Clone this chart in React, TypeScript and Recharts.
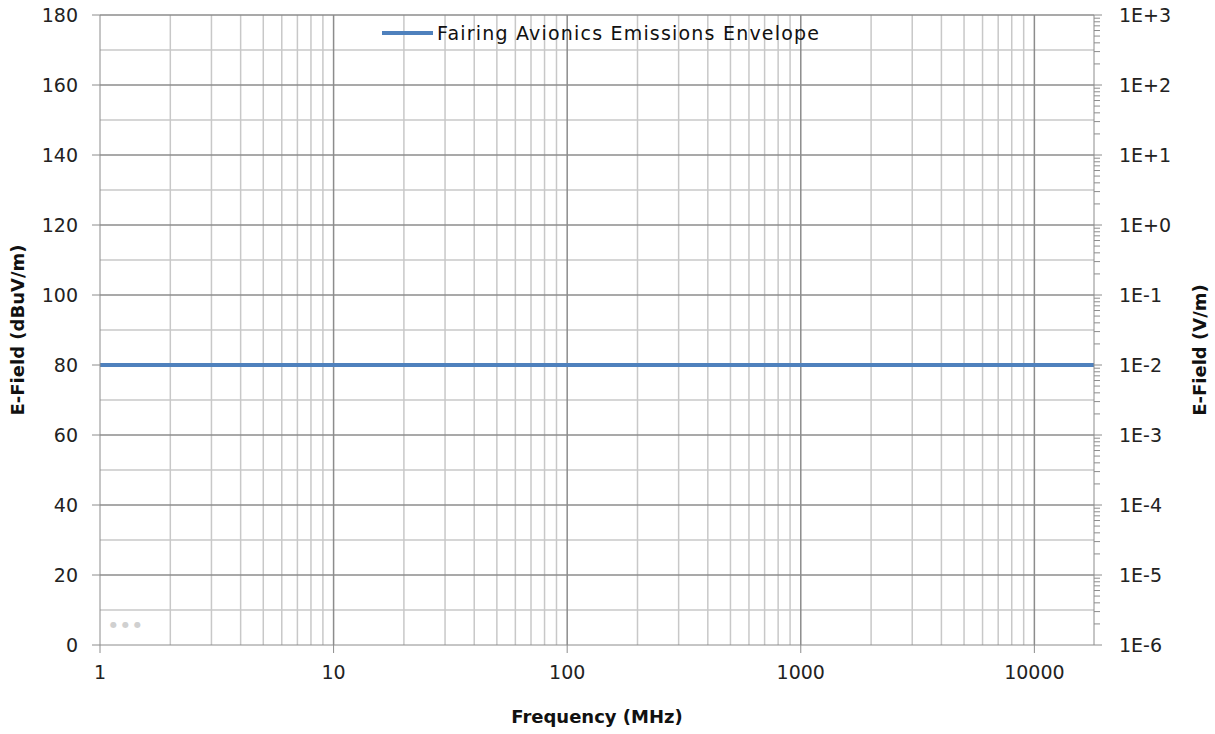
import { LineChart, Line, XAxis, YAxis, ReferenceLine } from "recharts";

// envelope data (frequency in MHz, E-field in dBuV/m and V/m)
const freqMHz = [1, 18000];
const envelopeDb = [80, 80];
const envelopeVm = [0.01, 0.01];

const xTicks = [1, 10, 100, 1000, 10000];
const xMinorGrid = [
  2, 3, 4, 5, 6, 7, 8, 9,
  20, 30, 40, 50, 60, 70, 80, 90,
  200, 300, 400, 500, 600, 700, 800, 900,
  2000, 3000, 4000, 5000, 6000, 7000, 8000, 9000,
];
const dbTicks = [0, 20, 40, 60, 80, 100, 120, 140, 160, 180];
const dbMinorGrid = [10, 30, 50, 70, 90, 110, 130, 150, 170];
const vmDecades = [1e-6, 1e-5, 1e-4, 1e-3, 1e-2, 1e-1, 1, 10, 100, 1000];
const vmLabels = ["1E-6", "1E-5", "1E-4", "1E-3", "1E-2", "1E-1", "1E+0", "1E+1", "1E+2", "1E+3"];
const vmMinorMult = [2, 3, 4, 5, 6, 7, 8, 9];
const seriesName = "Fairing Avionics Emissions Envelope";

const data = freqMHz.map((f, i) => ({ f, db: envelopeDb[i], vm: envelopeVm[i] }));
const vmTicks = [
  ...vmDecades,
  ...vmDecades.slice(0, -1).flatMap((d) => vmMinorMult.map((k) => k * d)),
].sort((a, b) => a - b);

const FONT = "'DejaVu Sans', Verdana, sans-serif";
const MAJOR = "#8c8c8c";
const MINOR = "#c8c8c8";
const TEXT = "#222";
const BLUE = "#4f81bd";

const RightTick = (props: any) => {
  const { x, y, payload } = props;
  const i = vmDecades.indexOf(payload.value);
  return (
    <g>
      <line x1={x} x2={x + (i >= 0 ? 8 : 6)} y1={y} y2={y} stroke={MAJOR} strokeWidth={1} />
      {i >= 0 && (
        <text x={x + 25} y={y} dy="0.36em" fontSize={19} fill={TEXT} fontFamily={FONT}>
          {vmLabels[i]}
        </text>
      )}
    </g>
  );
};

const sideTitle = (text: string, cx: number, cy: number) => () => (
  <text
    x={cx}
    y={cy}
    transform={`rotate(-90 ${cx} ${cy})`}
    textAnchor="middle"
    dominantBaseline="central"
    fontSize={18}
    fontWeight="bold"
    fontFamily={FONT}
    fill="#111"
  >
    {text}
  </text>
);

export default function App() {
  return (
    <div style={{ position: "absolute", left: 0, top: 0, width: 1215, height: 734, background: "#fff" }}>
      <LineChart
        width={1215}
        height={734}
        data={data}
        margin={{ top: 15, right: 21, bottom: 9, left: 0 }}
      >
        <XAxis
          dataKey="f"
          type="number"
          scale="log"
          domain={[1, 18000]}
          allowDataOverflow
          ticks={xTicks}
          interval={0}
          height={80}
          tickSize={8}
          tickMargin={13}
          stroke={MAJOR}
          tick={{ fontSize: 19, fill: TEXT, fontFamily: FONT }}
          label={{
            value: "Frequency (MHz)",
            position: "insideBottom",
            offset: 2,
            style: { fontSize: 18, fontWeight: "bold", fontFamily: FONT, fill: "#111" },
          }}
        />
        <YAxis
          yAxisId="db"
          type="number"
          domain={[0, 180]}
          ticks={dbTicks}
          interval={0}
          width={100}
          tickSize={8}
          tickMargin={14}
          stroke={MAJOR}
          tick={{ fontSize: 19, fill: TEXT, fontFamily: FONT }}
          label={{ content: sideTitle("E-Field (dBuV/m)", 17, 330) }}
        />
        <YAxis
          yAxisId="vm"
          orientation="right"
          type="number"
          scale="log"
          domain={[1e-6, 1000]}
          allowDataOverflow
          ticks={vmTicks}
          interval={0}
          width={100}
          tickSize={0}
          tickMargin={0}
          tickLine={false}
          stroke={MAJOR}
          tick={<RightTick />}
          label={{ content: sideTitle("E-Field (V/m)", 1199, 350) }}
        />
        {xMinorGrid.map((v) => (
          <ReferenceLine key={"xm" + v} x={v} yAxisId="db" stroke={MINOR} strokeWidth={1.5} />
        ))}
        {dbMinorGrid.map((v) => (
          <ReferenceLine key={"ym" + v} y={v} yAxisId="db" stroke={MINOR} strokeWidth={1.5} />
        ))}
        {xTicks.slice(1).map((v) => (
          <ReferenceLine key={"xM" + v} x={v} yAxisId="db" stroke={MAJOR} strokeWidth={1.5} />
        ))}
        {dbTicks.slice(1).map((v) => (
          <ReferenceLine key={"yM" + v} y={v} yAxisId="db" stroke={MAJOR} strokeWidth={1.5} />
        ))}
        <Line
          yAxisId="vm"
          dataKey="vm"
          stroke="none"
          dot={false}
          legendType="none"
          isAnimationActive={false}
        />
        <Line
          yAxisId="db"
          dataKey="db"
          name={seriesName}
          stroke={BLUE}
          strokeWidth={4}
          dot={false}
          isAnimationActive={false}
        />
      </LineChart>
      {/* legend, drawn over the plot like the original */}
      <svg width={480} height={30} style={{ position: "absolute", left: 380, top: 19 }}>
        <line x1={2} x2={53} y1={14} y2={14} stroke={BLUE} strokeWidth={4} />
        <text x={57} y={14} dy="0.36em" fontSize={19} fontFamily={FONT} fill="#111" letterSpacing={1.2}>
          {seriesName}
        </text>
      </svg>
      <div
        style={{
          position: "absolute",
          left: 110,
          top: 620,
          fontSize: 8,
          letterSpacing: 5,
          color: "#d0d0d0",
          fontFamily: FONT,
        }}
      >
        ●●●
      </div>
    </div>
  );
}
